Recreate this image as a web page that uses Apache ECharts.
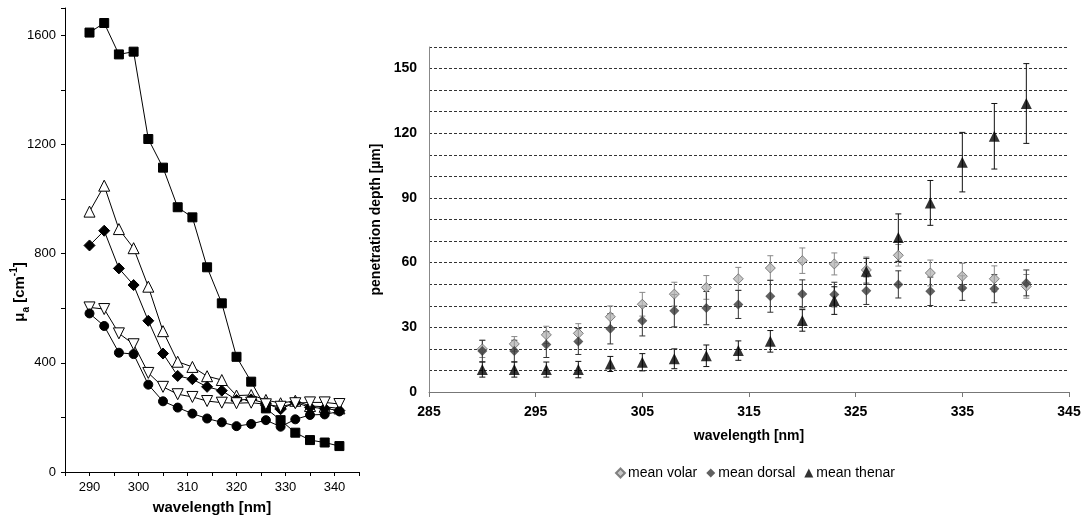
<!DOCTYPE html>
<html>
<head>
<meta charset="utf-8">
<script src="https://cdn.jsdelivr.net/npm/echarts@6/dist/echarts.min.js"></script>
<style>
  html, body { margin: 0; padding: 0; background: #fff; }
  #chart { width: 1086px; height: 520px; }
</style>
</head>
<body>
<div id="chart"></div>
<script>
// wavelengths shared by both panels [nm]
const wavelengths = [290, 293, 296, 299, 302, 305, 308, 311, 314, 317, 320, 323, 326, 329, 332, 335, 338, 341];

// left panel: absorption coefficient μa [cm-1]
const muSquare   = [1610, 1645, 1530, 1540, 1220, 1115, 970, 933, 750, 618, 422, 331, 233, 190, 144, 117, 108, 95];
const muTriUp    = [954, 1049, 890, 820, 679, 516, 404, 385, 351, 337, 280, 282, 264, 252, 261, 242, 239, 233];
const muDiamond  = [830, 884, 746, 685, 554, 434, 352, 340, 312, 298, 264, 266, 252, 230, 255, 237, 233, 225];
const muTriDown  = [603, 597, 508, 468, 363, 312, 285, 275, 260, 254, 252, 254, 248, 239, 252, 255, 255, 249];
const muCircle   = [581, 535, 437, 432, 320, 259, 236, 214, 196, 182, 168, 176, 190, 166, 193, 209, 211, 222];

// right panel: penetration depth [µm], mean ± sd
const volarMean  = [20, 22.3, 26.5, 27.2, 34.9, 40.7, 45.4, 48.5, 52.5, 57.5, 60.9, 59.4, 56.6, 63.4, 55.2, 53.7, 52.5, 49];
const volarErr   = [4, 3.4, 4, 4.5, 5, 5.5, 5.5, 5.5, 5.3, 5.7, 5.9, 5.1, 6, 5, 6, 6, 6, 5.5];
const dorsalMean = [19, 19, 22, 23.4, 29.3, 33, 37.7, 38.9, 40.6, 44.4, 45.5, 45.2, 47, 49.9, 46.7, 48.2, 47.9, 50.6];
const dorsalErr  = [5, 5, 6, 6, 7, 7, 7.5, 7.7, 6.5, 7.4, 6.5, 5.7, 6.4, 6.3, 6.6, 5.7, 6.5, 6];
const thenarMean = [10.4, 10.4, 10.4, 10.4, 13, 13.8, 15.4, 16.8, 19.2, 23.5, 33.2, 42.4, 56, 71.6, 87.7, 106.6, 118.6, 133.8];
const thenarErr  = [3.5, 3.5, 3.5, 3.8, 3.5, 4, 4.6, 5, 4.5, 5, 5, 6.4, 6, 11, 10.4, 13.8, 15.2, 18.5];

const FONT = 'Liberation Sans, Arial, sans-serif';

const pairs = (ys) => wavelengths.map((w, i) => [w, ys[i]]);
const triples = (ys, es) => wavelengths.map((w, i) => [w, ys[i], es[i]]);

function lineSeries(ys, symbol, size, filled, rotate) {
  return {
    type: 'line',
    xAxisIndex: 0,
    yAxisIndex: 0,
    data: pairs(ys),
    symbol,
    symbolSize: size,
    symbolRotate: rotate || 0,
    showAllSymbol: true,
    lineStyle: { color: '#000', width: 1 },
    itemStyle: { color: filled ? '#000' : '#fff', borderColor: '#000', borderWidth: 1 },
    z: 3,
  };
}

function errorSeries(ys, es, color) {
  return {
    type: 'custom',
    xAxisIndex: 1,
    yAxisIndex: 1,
    data: triples(ys, es),
    encode: { x: 0, y: 1 },
    z: 2,
    silent: true,
    renderItem: (params, api) => {
      const x = api.value(0);
      const m = api.value(1);
      const e = api.value(2);
      const top = api.coord([x, m + e]);
      const bot = api.coord([x, m - e]);
      const hw = 3;
      const st = { stroke: color, lineWidth: 1 };
      return {
        type: 'group',
        children: [
          { type: 'line', shape: { x1: top[0], y1: top[1], x2: bot[0], y2: bot[1] }, style: st },
          { type: 'line', shape: { x1: top[0] - hw, y1: top[1], x2: top[0] + hw, y2: top[1] }, style: st },
          { type: 'line', shape: { x1: bot[0] - hw, y1: bot[1], x2: bot[0] + hw, y2: bot[1] }, style: st },
        ],
      };
    },
  };
}

const chart = echarts.init(document.getElementById('chart'), null, { renderer: 'canvas' });

chart.setOption({
  animation: false,
  textStyle: { fontFamily: FONT },
  grid: [
    { left: 65, top: 8, width: 294, height: 464 },
    { left: 429, top: 47, width: 640, height: 345 },
  ],
  xAxis: [
    {
      gridIndex: 0, type: 'value', min: 285, max: 345, interval: 5,
      axisLine: { lineStyle: { color: '#000', width: 1 } },
      axisTick: { length: 4, lineStyle: { color: '#000' } },
      axisLabel: { formatter: (v) => (v % 10 === 0 ? v : ''), color: '#000', fontSize: 13, margin: 9, fontFamily: FONT },
      splitLine: { show: false },
      name: 'wavelength [nm]', nameLocation: 'middle', nameGap: 28,
      nameTextStyle: { fontWeight: 'bold', fontSize: 15, color: '#000', fontFamily: FONT },
    },
    {
      gridIndex: 1, type: 'value', min: 285, max: 345, interval: 10,
      axisLine: { lineStyle: { color: '#777', width: 1 } },
      axisTick: { length: 5, lineStyle: { color: '#777' } },
      axisLabel: { color: '#000', fontSize: 14, fontWeight: 'bold', margin: 13, fontFamily: FONT },
      splitLine: { show: false },
      name: 'wavelength [nm]', nameLocation: 'middle', nameGap: 37,
      nameTextStyle: { fontWeight: 'bold', fontSize: 14, color: '#000', fontFamily: FONT },
    },
  ],
  yAxis: [
    {
      gridIndex: 0, type: 'value', min: 0, max: 1700, interval: 200,
      axisLine: { show: true, lineStyle: { color: '#000', width: 1 } },
      axisTick: { show: true, length: 4, lineStyle: { color: '#000' } },
      axisLabel: { formatter: (v) => (v % 400 === 0 ? v : ''), color: '#000', fontSize: 13, margin: 9, fontFamily: FONT },
      splitLine: { show: false },
    },
    {
      gridIndex: 1, type: 'value', min: 0, max: 160, interval: 10,
      axisLine: { show: true, lineStyle: { color: '#888', width: 1 } },
      axisTick: { show: false },
      axisLabel: { formatter: (v) => (v % 30 === 0 ? v : ''), color: '#000', fontSize: 14, fontWeight: 'bold', margin: 12, fontFamily: FONT },
      splitLine: { show: true, lineStyle: { color: '#333', width: 1, type: [3, 2] } },
      name: 'penetration depth [µm]', nameLocation: 'middle', nameGap: 43,
      nameTextStyle: { fontWeight: 'bold', fontSize: 14, color: '#000', fontFamily: FONT },
    },
  ],
  graphic: [
    {
      type: 'text',
      x: 20,
      y: 292,
      rotation: Math.PI / 2,
      style: {
        text: '{b|μ}{sub|a}{b| [cm}{sup|-1}{b|]}',
        align: 'center',
        verticalAlign: 'middle',
        fill: '#000',
        rich: {
          b: { fontSize: 15, fontWeight: 'bold', fontFamily: FONT, lineHeight: 22, fill: '#000' },
          sub: { fontSize: 10, fontWeight: 'bold', fontFamily: FONT, lineHeight: 10, verticalAlign: 'bottom', fill: '#000' },
          sup: { fontSize: 10, fontWeight: 'bold', fontFamily: FONT, lineHeight: 10, verticalAlign: 'top', fill: '#000' },
        },
      },
    },
  ],
  legend: {
    data: ['mean volar', 'mean dorsal', 'mean thenar'],
    left: 610,
    top: 461,
    itemWidth: 9,
    itemHeight: 9,
    itemGap: 9,
    textStyle: { fontSize: 14, color: '#000', fontFamily: FONT, padding: [0, 0, 0, -2] },
  },
  series: [
    lineSeries(muSquare, 'rect', 9, true),
    lineSeries(muTriUp, 'triangle', 11, false),
    lineSeries(muDiamond, 'diamond', 11, true),
    lineSeries(muTriDown, 'triangle', 11, false, 180),
    lineSeries(muCircle, 'circle', 9, true),

    errorSeries(volarMean, volarErr, '#888'),
    errorSeries(dorsalMean, dorsalErr, '#333'),
    errorSeries(thenarMean, thenarErr, '#111'),
    {
      name: 'mean volar', type: 'scatter', xAxisIndex: 1, yAxisIndex: 1,
      data: pairs(volarMean), symbol: 'diamond', symbolSize: 10, z: 4,
      itemStyle: { color: '#b8b8b8', borderColor: '#666', borderWidth: 1 },
    },
    {
      name: 'mean dorsal', type: 'scatter', xAxisIndex: 1, yAxisIndex: 1,
      data: pairs(dorsalMean), symbol: 'diamond', symbolSize: 10, z: 4,
      itemStyle: { color: '#3a3a3a', borderColor: '#3a3a3a', borderWidth: 0 },
    },
    {
      name: 'mean thenar', type: 'scatter', xAxisIndex: 1, yAxisIndex: 1,
      data: pairs(thenarMean), symbol: 'triangle', symbolSize: 11, z: 5,
      itemStyle: { color: '#000' },
    },
  ],
});
</script>
</body>
</html>
